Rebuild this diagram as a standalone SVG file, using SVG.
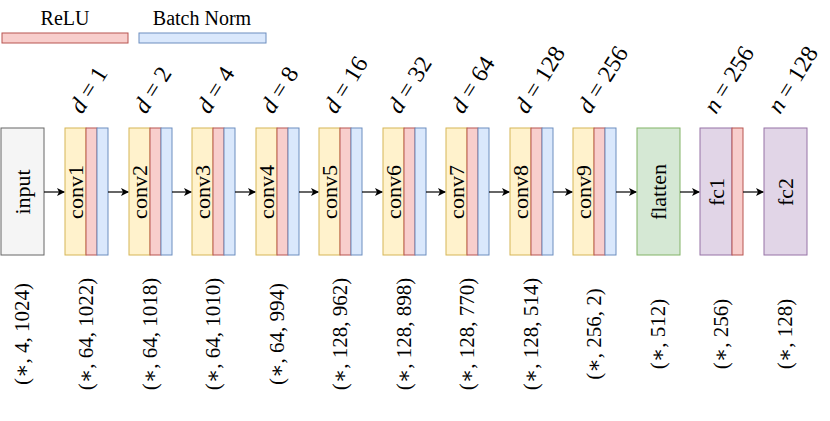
<svg xmlns="http://www.w3.org/2000/svg" width="830" height="421" viewBox="0 0 830 421" font-family="'Liberation Serif', 'DejaVu Serif', serif">
<style>
text{font-family:'Liberation Serif','DejaVu Serif',serif;font-size:22px;fill:#000}
.l{font-size:20px}
.t{font-size:24px}
.s{font-size:21px}
.y{fill:#fff2cc;stroke:#d6b656}
.r{fill:#f8cecc;stroke:#b85450}
.b{fill:#dae8fc;stroke:#6c8ebf}
.g{fill:#d5e8d4;stroke:#82b366}
.p{fill:#e1d5e7;stroke:#9673a6}
.i{fill:#f5f5f5;stroke:#666}
.c{stroke:#000;stroke-width:1.2;fill:none;marker-end:url(#ah)}
</style>
<defs><marker id="ah" markerWidth="8" markerHeight="8" refX="7" refY="4" orient="auto" markerUnits="userSpaceOnUse"><path d="M0,0 L8,4 L0,8 L2,4 z" fill="#000"/></marker></defs>
<g id="legend">
<rect class="r" x="2" y="33" width="126" height="10"/>
<rect class="b" x="139" y="33" width="127" height="10"/>
<text class="l" x="65" y="25" text-anchor="middle">ReLU</text>
<text class="l" x="202" y="25" text-anchor="middle">Batch Norm</text>
</g>
<g id="input"><rect class="i" x="1" y="128" width="43" height="127"/><text transform="translate(30,192) rotate(-90)" text-anchor="middle">input</text>
<text class="s" transform="translate(29,334) rotate(-90)" text-anchor="middle">(∗, 4, 1024)</text></g>
<g id="conv1"><rect class="y" x="65" y="128" width="21" height="127"/><rect class="r" x="86" y="128" width="11" height="127"/><rect class="b" x="97" y="128" width="11" height="127"/><text transform="translate(83,192) rotate(-90)" text-anchor="middle">conv1</text><text class="t" transform="translate(82,115) rotate(-58)"><tspan font-style="italic">d</tspan> = 1</text><text class="s" transform="translate(93,334) rotate(-90)" text-anchor="middle">(∗, 64, 1022)</text></g>
<g id="conv2"><rect class="y" x="129" y="128" width="21" height="127"/><rect class="r" x="150" y="128" width="11" height="127"/><rect class="b" x="161" y="128" width="11" height="127"/><text transform="translate(147,192) rotate(-90)" text-anchor="middle">conv2</text><text class="t" transform="translate(146,115) rotate(-58)"><tspan font-style="italic">d</tspan> = 2</text><text class="s" transform="translate(157,334) rotate(-90)" text-anchor="middle">(∗, 64, 1018)</text></g>
<g id="conv3"><rect class="y" x="192" y="128" width="21" height="127"/><rect class="r" x="213" y="128" width="11" height="127"/><rect class="b" x="224" y="128" width="11" height="127"/><text transform="translate(210,192) rotate(-90)" text-anchor="middle">conv3</text><text class="t" transform="translate(209,115) rotate(-58)"><tspan font-style="italic">d</tspan> = 4</text><text class="s" transform="translate(220,334) rotate(-90)" text-anchor="middle">(∗, 64, 1010)</text></g>
<g id="conv4"><rect class="y" x="256" y="128" width="21" height="127"/><rect class="r" x="277" y="128" width="11" height="127"/><rect class="b" x="288" y="128" width="11" height="127"/><text transform="translate(274,192) rotate(-90)" text-anchor="middle">conv4</text><text class="t" transform="translate(273,115) rotate(-58)"><tspan font-style="italic">d</tspan> = 8</text><text class="s" transform="translate(284,334) rotate(-90)" text-anchor="middle">(∗, 64, 994)</text></g>
<g id="conv5"><rect class="y" x="319" y="128" width="21" height="127"/><rect class="r" x="340" y="128" width="11" height="127"/><rect class="b" x="351" y="128" width="11" height="127"/><text transform="translate(337,192) rotate(-90)" text-anchor="middle">conv5</text><text class="t" transform="translate(336,115) rotate(-58)"><tspan font-style="italic">d</tspan> = 16</text><text class="s" transform="translate(347,334) rotate(-90)" text-anchor="middle">(∗, 128, 962)</text></g>
<g id="conv6"><rect class="y" x="383" y="128" width="21" height="127"/><rect class="r" x="404" y="128" width="11" height="127"/><rect class="b" x="415" y="128" width="11" height="127"/><text transform="translate(401,192) rotate(-90)" text-anchor="middle">conv6</text><text class="t" transform="translate(400,115) rotate(-58)"><tspan font-style="italic">d</tspan> = 32</text><text class="s" transform="translate(411,334) rotate(-90)" text-anchor="middle">(∗, 128, 898)</text></g>
<g id="conv7"><rect class="y" x="446" y="128" width="21" height="127"/><rect class="r" x="467" y="128" width="11" height="127"/><rect class="b" x="478" y="128" width="11" height="127"/><text transform="translate(464,192) rotate(-90)" text-anchor="middle">conv7</text><text class="t" transform="translate(463,115) rotate(-58)"><tspan font-style="italic">d</tspan> = 64</text><text class="s" transform="translate(474,334) rotate(-90)" text-anchor="middle">(∗, 128, 770)</text></g>
<g id="conv8"><rect class="y" x="510" y="128" width="21" height="127"/><rect class="r" x="531" y="128" width="11" height="127"/><rect class="b" x="542" y="128" width="11" height="127"/><text transform="translate(528,192) rotate(-90)" text-anchor="middle">conv8</text><text class="t" transform="translate(527,115) rotate(-58)"><tspan font-style="italic">d</tspan> = 128</text><text class="s" transform="translate(538,334) rotate(-90)" text-anchor="middle">(∗, 128, 514)</text></g>
<g id="conv9"><rect class="y" x="573" y="128" width="21" height="127"/><rect class="r" x="594" y="128" width="11" height="127"/><rect class="b" x="605" y="128" width="11" height="127"/><text transform="translate(591,192) rotate(-90)" text-anchor="middle">conv9</text><text class="t" transform="translate(590,115) rotate(-58)"><tspan font-style="italic">d</tspan> = 256</text><text class="s" transform="translate(601,334) rotate(-90)" text-anchor="middle">(∗, 256, 2)</text></g>
<g id="flatten"><rect class="g" x="637" y="128" width="43" height="127"/><text transform="translate(666,192) rotate(-90)" text-anchor="middle">flatten</text><text class="s" transform="translate(665,334) rotate(-90)" text-anchor="middle">(∗, 512)</text></g>
<g id="fc1"><rect class="p" x="700" y="128" width="32" height="127"/><rect class="r" x="732" y="128" width="11" height="127"/><text transform="translate(724,192) rotate(-90)" text-anchor="middle">fc1</text><text class="t" transform="translate(716,115) rotate(-58)"><tspan font-style="italic">n</tspan> = 256</text><text class="s" transform="translate(728,334) rotate(-90)" text-anchor="middle">(∗, 256)</text></g>
<g id="fc2"><rect class="p" x="764" y="128" width="43" height="127"/><text transform="translate(793,192) rotate(-90)" text-anchor="middle">fc2</text><text class="t" transform="translate(780,115) rotate(-58)"><tspan font-style="italic">n</tspan> = 128</text><text class="s" transform="translate(792,334) rotate(-90)" text-anchor="middle">(∗, 128)</text></g>
<g id="connectors">
<path class="c" d="M44,192 H64"/><path class="c" d="M108,192 H128"/><path class="c" d="M172,192 H191"/><path class="c" d="M235,192 H255"/><path class="c" d="M299,192 H318"/><path class="c" d="M362,192 H382"/><path class="c" d="M426,192 H445"/><path class="c" d="M489,192 H509"/><path class="c" d="M553,192 H572"/><path class="c" d="M616,192 H636"/><path class="c" d="M680,192 H699"/><path class="c" d="M743,192 H763"/>
</g>
</svg>
